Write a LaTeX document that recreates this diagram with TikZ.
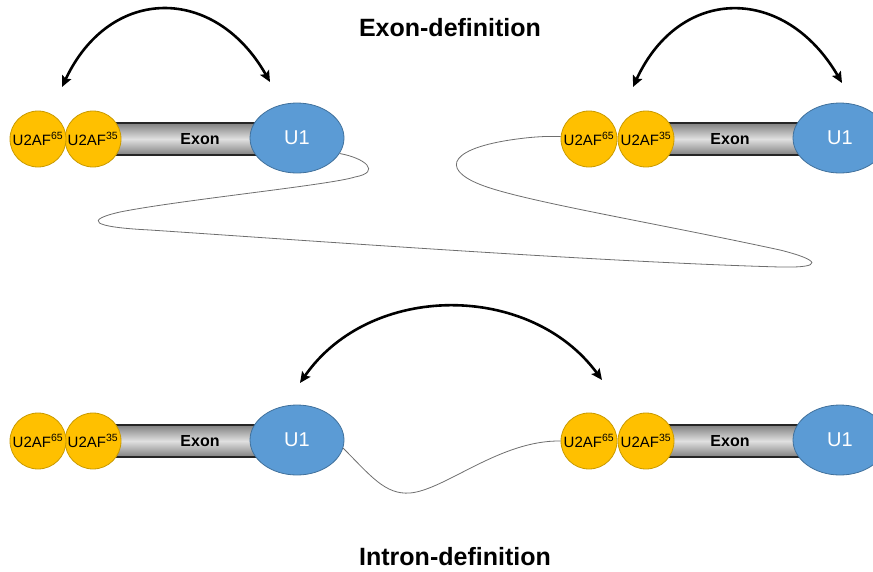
\documentclass[tikz,border=0pt]{standalone}
\usepackage{fontspec}
\setmainfont{Liberation Sans}
\usepackage{tikz}
\usetikzlibrary{shapes.geometric, arrows.meta}
\definecolor{u2afyellow}{HTML}{FFC000}
\definecolor{u2afedge}{HTML}{C99A00}
\definecolor{uoneblue}{HTML}{5B9BD5}
\definecolor{uoneedge}{HTML}{41719C}
\definecolor{strandgray}{HTML}{6E6E6E}

\begin{document}
\begin{tikzpicture}[x=1pt, y=-1pt,
  factor/.style={circle, fill=u2afyellow, draw=u2afedge, line width=0.8pt, minimum size=56pt, inner sep=0pt, font=\fontsize{15}{15}\selectfont},
  snrnp/.style={ellipse, fill=uoneblue, draw=uoneedge, line width=0.8pt, minimum width=94pt, minimum height=70pt, inner sep=0pt, text=white, font=\fontsize{20}{20}\selectfont},
  exonbar/.style={rectangle, draw=black!85, line width=1.2pt, minimum height=32pt, inner sep=0pt, top color=black!50, bottom color=black!50, middle color=black!12},
  exonlbl/.style={font=\fontsize{16}{16}\selectfont\bfseries},
  headline/.style={font=\fontsize{25}{25}\selectfont\bfseries},
  strand/.style={draw=strandgray, line width=0.8pt},
  bridge/.style={line width=2.6pt, {Stealth[length=11pt, width=10pt, inset=2pt]}-{Stealth[length=11pt, width=10pt, inset=2pt]}}]
  \useasboundingbox (0,0) rectangle (873,571);
  \clip (0,0) rectangle (873,571);

  % Titles
  \node[headline] (exondef) at (450,28) {Exon-definition};
  \node[headline] (introndef) at (455,557) {Intron-definition};

  % Exon units: U2AF65, U2AF35, exon, U1
  \foreach \g/\xa/\xb/\xu/\xe/\y in {tl/38/93/297/200/139, tr/589/646/840/730/139, bl/38/93/297/200/441, br/589/646/840/730/441} {
    \pgfmathsetmacro{\bw}{\xu-\xb}
    \pgfmathsetmacro{\bx}{(\xu+\xb)/2}
    \node[exonbar, minimum width=\bw pt] (\g-bar) at (\bx,\y) {};
    \node[exonlbl] (\g-exon) at (\xe,\y) {Exon};
    \node[factor] (\g-35) at (\xb,\y) {U2AF\textsuperscript{35}};
    \node[factor] (\g-65) at (\xa,\y) {U2AF\textsuperscript{65}};
    \node[snrnp] (\g-u1) at (\xu,\y-1) {U1};
  }

  % Long intron between the exons (top)
  \draw[strand] (tl-u1.-20) .. controls (365,158) and (382,172) .. (355,177)
    .. controls (330,185) and (180,200) .. (120,212)
    .. controls (85,220) and (90,227) .. (150,230)
    .. controls (300,240) and (600,262) .. (780,267)
    .. controls (825,268) and (820,260) .. (780,250)
    .. controls (660,224) and (540,204) .. (490,188)
    .. controls (440,172) and (445,150) .. (510,140)
    .. controls (530,137) and (545,136) .. (tr-65.175);

  % Short intron (bottom)
  \draw[strand] (bl-u1.-10) .. controls (370,475) and (385,495) .. (410,493)
    .. controls (445,490) and (500,440) .. (br-65.west);

  % Cross-talk arrows
  \coordinate (tl-left) at (62,87);
  \coordinate (tl-right) at (270,82);
  \coordinate (tr-left) at (633,87);
  \coordinate (tr-right) at (842,83);
  \coordinate (mid-left) at (300,383);
  \coordinate (mid-right) at (602,380);
  \draw[bridge] (tl-left) .. controls (110,-15) and (215,-15) .. (tl-right);
  \draw[bridge] (tr-left) .. controls (680,-15) and (785,-15) .. (tr-right);
  \draw[bridge] (mid-left) .. controls (370,282) and (530,282) .. (mid-right);
\end{tikzpicture}
\end{document}
